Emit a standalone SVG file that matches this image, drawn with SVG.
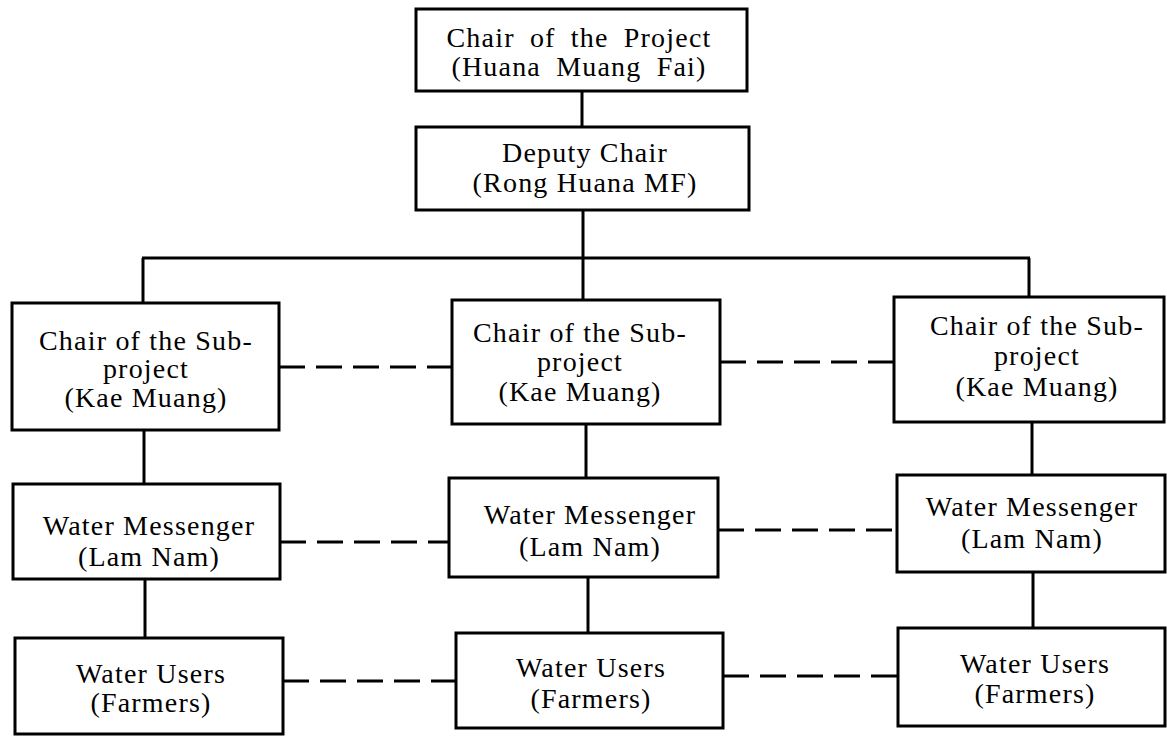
<svg xmlns="http://www.w3.org/2000/svg" width="1167" height="736" viewBox="0 0 1167 736">
  <style>
    .box { fill: #ffffff; stroke: #000000; stroke-width: 3; }
    .lbl { font-family: "Liberation Serif", "Times New Roman", serif; font-size: 28px; letter-spacing: 1.2px; fill: #000000; text-anchor: middle; }
    .wide { word-spacing: 7px; }
    .link { fill: none; stroke: #000000; stroke-width: 3; }
    .peer { fill: none; stroke: #000000; stroke-width: 3; stroke-dasharray: 26 11; }
  </style>
  <rect width="1167" height="736" fill="#ffffff"/>

  <!-- connectors -->
  <g id="connectors">
    <!-- hierarchy -->
    <line class="link" x1="582" y1="91" x2="582" y2="127"/>
    <line class="link" x1="583" y1="210" x2="583" y2="258"/>
    <line class="link" x1="142" y1="258" x2="1030" y2="258"/>
    <line class="link" x1="143" y1="258" x2="143" y2="303"/>
    <line class="link" x1="583" y1="258" x2="583" y2="300"/>
    <line class="link" x1="1029" y1="258" x2="1029" y2="297"/>
    <line class="link" x1="144" y1="430" x2="144" y2="484"/>
    <line class="link" x1="586" y1="424" x2="586" y2="478"/>
    <line class="link" x1="1032" y1="422" x2="1032" y2="475"/>
    <line class="link" x1="145" y1="579" x2="145" y2="638"/>
    <line class="link" x1="588" y1="577" x2="588" y2="633"/>
    <line class="link" x1="1033" y1="572" x2="1033" y2="628"/>
    <!-- peer links -->
    <line class="peer" x1="279" y1="367" x2="452" y2="367"/>
    <line class="peer" x1="720" y1="362" x2="894" y2="362"/>
    <line class="peer" x1="280" y1="542" x2="449" y2="542"/>
    <line class="peer" x1="718" y1="530" x2="897" y2="530"/>
    <line class="peer" x1="283" y1="681" x2="456" y2="681"/>
    <line class="peer" x1="723" y1="676" x2="898" y2="676"/>
  </g>

  <g id="chair">
    <rect class="box" x="416" y="9" width="331" height="82"/>
    <text class="lbl wide" x="579" y="47">Chair of the Project</text>
    <text class="lbl wide" x="579" y="76">(Huana Muang Fai)</text>
  </g>

  <g id="deputy">
    <rect class="box" x="416" y="127" width="333" height="83"/>
    <text class="lbl" x="585" y="162">Deputy Chair</text>
    <text class="lbl" x="585" y="192">(Rong Huana MF)</text>
  </g>

  <g id="sub-left">
    <rect class="box" x="12" y="303" width="267" height="127"/>
    <text class="lbl" x="146" y="350">Chair of the Sub-</text>
    <text class="lbl" x="146" y="378">project</text>
    <text class="lbl" x="146" y="407">(Kae Muang)</text>
  </g>

  <g id="sub-mid">
    <rect class="box" x="452" y="300" width="268" height="124"/>
    <text class="lbl" x="580" y="342">Chair of the Sub-</text>
    <text class="lbl" x="580" y="371">project</text>
    <text class="lbl" x="580" y="401">(Kae Muang)</text>
  </g>

  <g id="sub-right">
    <rect class="box" x="894" y="297" width="270" height="125"/>
    <text class="lbl" x="1037" y="335">Chair of the Sub-</text>
    <text class="lbl" x="1037" y="365">project</text>
    <text class="lbl" x="1037" y="396">(Kae Muang)</text>
  </g>

  <g id="messenger-left">
    <rect class="box" x="13" y="484" width="267" height="95"/>
    <text class="lbl" x="149" y="535">Water Messenger</text>
    <text class="lbl" x="149" y="566">(Lam Nam)</text>
  </g>

  <g id="messenger-mid">
    <rect class="box" x="449" y="478" width="269" height="99"/>
    <text class="lbl" x="590" y="524">Water Messenger</text>
    <text class="lbl" x="590" y="556">(Lam Nam)</text>
  </g>

  <g id="messenger-right">
    <rect class="box" x="897" y="475" width="268" height="97"/>
    <text class="lbl" x="1032" y="516">Water Messenger</text>
    <text class="lbl" x="1032" y="548">(Lam Nam)</text>
  </g>

  <g id="users-left">
    <rect class="box" x="15" y="638" width="268" height="96"/>
    <text class="lbl" x="151" y="683">Water Users</text>
    <text class="lbl" x="151" y="712">(Farmers)</text>
  </g>

  <g id="users-mid">
    <rect class="box" x="456" y="633" width="267" height="95"/>
    <text class="lbl" x="591" y="677">Water Users</text>
    <text class="lbl" x="591" y="708">(Farmers)</text>
  </g>

  <g id="users-right">
    <rect class="box" x="898" y="628" width="267" height="98"/>
    <text class="lbl" x="1035" y="673">Water Users</text>
    <text class="lbl" x="1035" y="703">(Farmers)</text>
  </g>
</svg>
